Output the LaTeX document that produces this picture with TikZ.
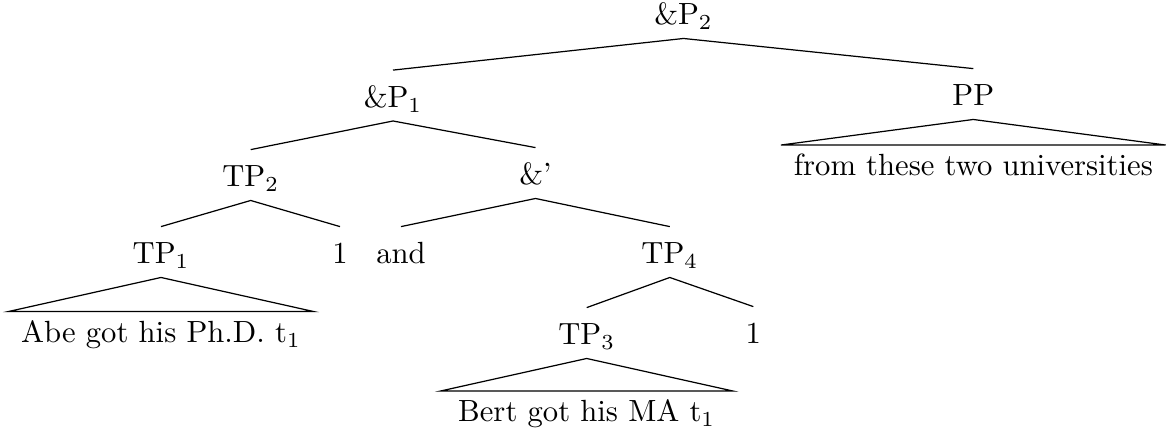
\documentclass[tikz,border=0pt]{standalone}
\begin{document}
\begin{tikzpicture}[x=0.3263pt,y=-0.3263pt,
  cat/.style={anchor=base,inner xsep=0pt,inner ysep=4.2pt,text height=7.8pt,text depth=0pt},
  leaf/.style={anchor=base,inner xsep=4pt,inner ysep=2.6pt,text height=7.3pt,text depth=1.94pt},
  edge/.style={line width=0.4pt}]
\useasboundingbox (0,0) rectangle (1176,436);
\node[cat] (p2) at (683.5,25) {\&P$_2$};
\node[cat] (p1) at (393,107.5) {\&P$_1$};
\node[cat] (pp) at (973.3,106) {PP};
\node[cat] (tp2) at (250.7,187) {TP$_2$};
\node[cat] (amp) at (535.5,185) {\&'};
\node[cat] (tp1) at (161,264) {TP$_1$};
\node[cat] (oneA) at (340,264) {1};
\node[cat] (and) at (401,264) {and};
\node[cat] (tp4) at (669.8,264) {TP$_4$};
\node[cat] (tp3) at (586.7,345) {TP$_3$};
\node[cat] (oneB) at (753.3,344) {1};
\node[leaf] (abe) at (161,342.5) {Abe got his Ph.D. t$_1$};
\node[leaf] (from) at (973.3,176) {from these two universities};
\node[leaf,inner xsep=5.6pt] (bert) at (586.7,422) {Bert got his MA t$_1$};
\draw[edge] (p1.north) -- (p2.south) -- (pp.north);
\draw[edge] (tp2.north) -- (p1.south) -- (amp.north);
\draw[edge] (tp1.north) -- (tp2.south) -- (oneA.north);
\draw[edge] (and.north) -- (amp.south) -- (tp4.north);
\draw[edge] (tp3.north) -- (tp4.south) -- (oneB.north);
\draw[edge] (abe.north west) -- (tp1.south) -- (abe.north east) -- cycle;
\draw[edge] (from.north west) -- (pp.south) -- (from.north east) -- cycle;
\draw[edge] (bert.north west) -- (tp3.south) -- (bert.north east) -- cycle;
\end{tikzpicture}
\end{document}
